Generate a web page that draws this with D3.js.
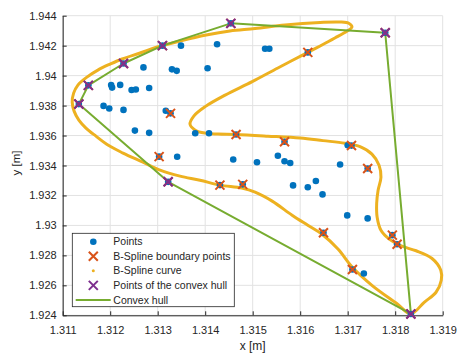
<!DOCTYPE html>
<html><head><meta charset="utf-8">
<script src="https://cdn.jsdelivr.net/npm/d3@7"></script>
<style>
html,body{margin:0;padding:0;background:#fff;}
svg text{font-family:"Liberation Sans",Arial,Helvetica,sans-serif;fill:#262626;}
</style></head>
<body>
<svg id="chart" width="457" height="353"></svg>
<script>
// ---- data ----
const xTicks = [1.311,1.312,1.313,1.314,1.315,1.316,1.317,1.318,1.319];
const xTickLabels = ["1.311","1.312","1.313","1.314","1.315","1.316","1.317","1.318","1.319"];
const yTicks = [1.924,1.926,1.928,1.930,1.932,1.934,1.936,1.938,1.940,1.942,1.944];
const yTickLabels = ["1.924","1.926","1.928","1.93","1.932","1.934","1.936","1.938","1.94","1.942","1.944"];

// interior points
const pointsX = [1.31349,1.31425,1.31270,1.31330,1.31340,1.31405,1.31202,1.31204,1.31221,1.31245,
  1.31254,1.31282,1.31186,1.31198,1.31228,1.31317,1.31252,1.31282,1.31379,1.31408,
  1.31341,1.31459,1.31526,1.31535,1.31509,1.31553,1.31567,1.31579,1.31700,1.31684,
  1.31585,1.31616,1.31633,1.31647,1.31699,1.31742,1.31734];
const pointsY = [1.94200,1.94209,1.94055,1.94042,1.94032,1.94049,1.93937,1.93920,1.93938,1.93904,
  1.93907,1.93917,1.93798,1.93781,1.93771,1.93765,1.93633,1.93618,1.93615,1.93615,
  1.93458,1.93440,1.94179,1.94179,1.93422,1.93465,1.93428,1.93417,1.93535,1.93407,
  1.93267,1.93255,1.93297,1.93207,1.93067,1.93047,1.92679];

// B-spline boundary points
const boundaryX = [1.31327,1.31465,1.31303,1.31616,1.31567,1.31708,1.31742,1.31431,1.31479,1.31649,1.31794,1.31804,1.31710];
const boundaryY = [1.93748,1.93607,1.93459,1.94155,1.93559,1.93533,1.93380,1.93269,1.93274,1.92951,1.92935,1.92874,1.92706];

// convex hull points (in hull order)
const hullX = [1.31134,1.31154,1.31228,1.31310,1.31454,1.31779,1.31833,1.31322];
const hullY = [1.93810,1.93935,1.94081,1.94200,1.94349,1.94286,1.92409,1.93291];

// B-spline curve (closed)
const curveX = [1.31120,1.31123,1.31132,1.31151,1.31174,1.31200,1.31225,1.31263,1.31299,1.31347,
  1.31402,1.31452,1.31505,1.31568,1.31642,1.31684,1.31703,1.31709,1.31699,1.31673,
  1.31642,1.31616,1.31553,1.31499,1.31442,1.31400,1.31376,1.31368,1.31379,1.31400,
  1.31427,1.31465,1.31532,1.31600,1.31648,1.31694,1.31726,1.31751,1.31766,1.31770,
  1.31764,1.31761,1.31762,1.31770,1.31789,1.31814,1.31844,1.31877,1.31896,1.31897,
  1.31886,1.31861,1.31833,1.31804,1.31751,1.31709,1.31680,1.31646,1.31616,1.31583,
  1.31541,1.31505,1.31477,1.31431,1.31389,1.31347,1.31305,1.31269,1.31227,1.31197,
  1.31170,1.31149,1.31134,1.31124];
const curveY = [1.93823,1.93883,1.93937,1.93990,1.94037,1.94077,1.94111,1.94151,1.94191,1.94231,
  1.94271,1.94298,1.94314,1.94338,1.94355,1.94358,1.94348,1.94324,1.94298,1.94251,
  1.94198,1.94155,1.94051,1.93960,1.93870,1.93793,1.93730,1.93676,1.93636,1.93616,
  1.93610,1.93607,1.93596,1.93583,1.93566,1.93549,1.93526,1.93476,1.93402,1.93322,
  1.93235,1.93148,1.93055,1.92968,1.92905,1.92861,1.92831,1.92781,1.92701,1.92634,
  1.92554,1.92487,1.92410,1.92477,1.92600,1.92724,1.92841,1.92941,1.93001,1.93068,
  1.93162,1.93222,1.93249,1.93269,1.93302,1.93329,1.93369,1.93422,1.93483,1.93533,
  1.93596,1.93650,1.93703,1.93763];

const legendLabels = ["Points","B-Spline boundary points","B-Spline curve","Points of the convex hull","Convex hull"];
const xLabel = "x [m]", yLabel = "y [m]";

// ---- colours / layout ----
const C_BLUE="#0072BD", C_ORANGE="#D95319", C_YELLOW="#EDB120", C_PURPLE="#7E2F8E", C_GREEN="#77AC30";
const pL=62.7, pR=442.7, pT=15.7, pB=315.3;

const svg = d3.select("#chart");
const x = d3.scaleLinear().domain([1.311,1.319]).range([pL,pR]);
const y = d3.scaleLinear().domain([1.924,1.944]).range([pB,pT]);

// grid
const grid = svg.append("g").attr("stroke","#e2e2e2").attr("stroke-width",1);
grid.selectAll(".gx").data(xTicks).join("line")
  .attr("x1",d=>x(d)).attr("x2",d=>x(d)).attr("y1",pT).attr("y2",pB);
grid.selectAll(".gy").data(yTicks).join("line")
  .attr("y1",d=>y(d)).attr("y2",d=>y(d)).attr("x1",pL).attr("x2",pR);

// axes
const xAxis = d3.axisBottom(x).tickValues(xTicks).tickFormat((d,i)=>xTickLabels[i])
  .tickSizeInner(-4).tickSizeOuter(0).tickPadding(11);
const yAxis = d3.axisLeft(y).tickValues(yTicks).tickFormat((d,i)=>yTickLabels[i])
  .tickSizeInner(-4).tickSizeOuter(0).tickPadding(6);
const gx = svg.append("g").attr("transform",`translate(0,${pB})`).call(xAxis);
const gy = svg.append("g").attr("transform",`translate(${pL},0)`).call(yAxis);
[gx,gy].forEach(g=>{
  g.selectAll("path").attr("stroke","#262626").attr("stroke-width",1);
  g.selectAll("line").attr("stroke","#262626").attr("stroke-width",1);
  g.selectAll("text").attr("font-size",11).attr("fill","#262626")
    .attr("font-family","Liberation Sans, Arial, sans-serif");
});
svg.append("text").attr("x",(pL+pR)/2).attr("y",349.5).attr("text-anchor","middle")
  .attr("font-size",12).text(xLabel);
svg.append("text").attr("transform",`translate(20,163) rotate(-90)`)
  .attr("text-anchor","middle").attr("font-size",11.5).text(yLabel);

// curve
const curvePts = curveX.map((v,i)=>[v,curveY[i]]);
const lineCurve = d3.line().x(d=>x(d[0])).y(d=>y(d[1])).curve(d3.curveCatmullRomClosed.alpha(0.5));
svg.append("path").attr("d",lineCurve(curvePts)).attr("fill","none")
  .attr("stroke",C_YELLOW).attr("stroke-width",3).attr("stroke-linejoin","round");

// hull
const hullPts = hullX.map((v,i)=>[v,hullY[i]]);
const lineHull = d3.line().x(d=>x(d[0])).y(d=>y(d[1])).curve(d3.curveLinearClosed);
svg.append("path").attr("d",lineHull(hullPts)).attr("fill","none")
  .attr("stroke",C_GREEN).attr("stroke-width",2).attr("stroke-linejoin","round");

// points (all, including boundary and hull)
const allX = pointsX.concat(boundaryX, hullX), allY = pointsY.concat(boundaryY, hullY);
svg.append("g").selectAll("circle").data(allX.map((v,i)=>[v,allY[i]])).join("circle")
  .attr("cx",d=>x(d[0])).attr("cy",d=>y(d[1])).attr("r",3.3).attr("fill",C_BLUE);

function xMark(g, cx, cy, s, color){
  g.append("path").attr("d",`M${cx-s},${cy-s}L${cx+s},${cy+s}M${cx-s},${cy+s}L${cx+s},${cy-s}`)
    .attr("stroke",color).attr("stroke-width",2).attr("fill","none");
}
const gb = svg.append("g");
const bPts = boundaryX.map((v,i)=>[v,boundaryY[i]]).concat(hullX.map((v,i)=>[v,hullY[i]]));
bPts.forEach(d=>xMark(gb,x(d[0]),y(d[1]),4.5,C_ORANGE));
const gh = svg.append("g");
hullPts.forEach(d=>xMark(gh,x(d[0]),y(d[1]),4.5,C_PURPLE));

// legend
const lg = svg.append("g");
lg.append("rect").attr("x",72.3).attr("y",233.3).attr("width",162).attr("height",73.4)
  .attr("fill","#fff").attr("stroke","#262626").attr("stroke-width",0.8);
const rowY = i => 241.7 + i*14.55;
const mx = 93.3;
lg.append("circle").attr("cx",mx).attr("cy",rowY(0)).attr("r",3.3).attr("fill",C_BLUE);
xMark(lg,mx,rowY(1),4.5,C_ORANGE);
lg.append("circle").attr("cx",mx).attr("cy",rowY(2)).attr("r",1.5).attr("fill",C_YELLOW);
xMark(lg,mx,rowY(3),4.5,C_PURPLE);
lg.append("line").attr("x1",75.7).attr("x2",110.7).attr("y1",rowY(4)).attr("y2",rowY(4))
  .attr("stroke",C_GREEN).attr("stroke-width",2);
lg.selectAll("text").data(legendLabels).join("text")
  .attr("x",113.3).attr("y",(d,i)=>rowY(i)).attr("dy","0.35em").attr("font-size",10.5).text(d=>d);
</script>
</body></html>
